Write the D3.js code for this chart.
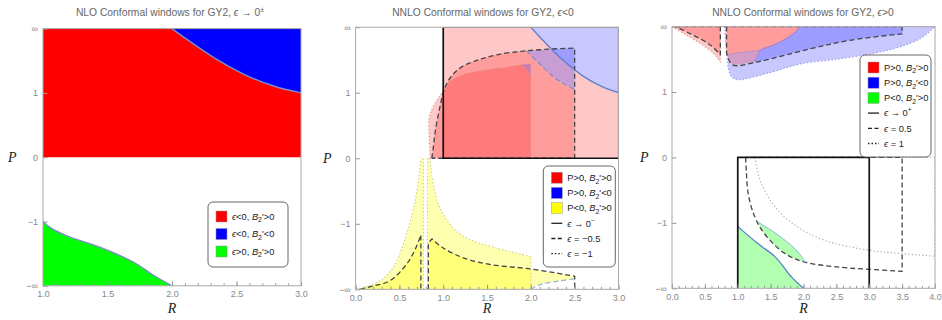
<!DOCTYPE html>
<html><head><meta charset="utf-8">
<script src="https://cdn.jsdelivr.net/npm/d3@7"></script>
<style>
body{margin:0;background:#fff}
svg{display:block;font-family:"Liberation Sans",Arial,sans-serif}
</style>
</head><body>
<svg id="c" width="942" height="320"></svg>
<script>
// ================= DATA =================
// compactified P axis: -2 = -inf, -1, 0, 1, 2 = +inf
const pTicks = [-2, -1, 0, 1, 2];
const pTickLabels = ["−∞", "−1", "0", "1", "∞"];
const r1Ticks = [1.0, 1.5, 2.0, 2.5, 3.0];
const r2Ticks = [0.0, 0.5, 1.0, 1.5, 2.0, 2.5, 3.0];
const r3Ticks = [0.0, 0.5, 1.0, 1.5, 2.0, 2.5, 3.0, 3.5, 4.0];

// Panel 1: NLO, eps -> 0±
const nloBlueCurve  = [[2.0,2.0],[2.11,1.84],[2.34,1.53],[2.6,1.25],[2.8,1.1],[3.0,1.0]];
const nloGreenCurve = [[1.0,-1.0],[1.06,-1.1],[1.18,-1.22],[1.44,-1.40],[1.70,-1.63],[1.86,-1.84],[2.0,-2.0]];

// Panel 2: NNLO, eps < 0
const nmTop05   = [[0.87,0],[0.89,0.2],[0.91,0.42],[0.96,0.77],[1.02,1.08],[1.11,1.28],[1.23,1.41],[1.42,1.51],[1.65,1.59],[1.95,1.64]];
const nmTop05b  = [[1.95,1.64],[2.2,1.665],[2.5,1.68]];
const nmBlue05  = [[1.95,1.64],[2.1,1.44],[2.29,1.21],[2.5,1.05]];
const nmTop1    = [[0.85,0],[0.84,0.3],[0.84,0.62],[0.89,0.8],[0.96,0.95],[1.02,1.06],[1.08,1.18],[1.23,1.28],[1.53,1.36],[1.65,1.38],[1.9,1.43]];
const nmTop1b   = [[1.9,1.43],[2.0,1.44]];
const nmBlue1   = [[1.9,1.43],[1.95,1.36],[2.0,1.26]];
const nmYelL1   = [[0.0,-2],[0.12,-1.96],[0.28,-1.87],[0.40,-1.72],[0.47,-1.57],[0.58,-1.16],[0.68,-0.65],[0.73,-0.2],[0.745,0]];
const nmYelR1   = [[0.845,0],[0.86,-0.15],[0.886,-0.39],[0.96,-0.75],[1.11,-1.06],[1.30,-1.24],[1.53,-1.34],[1.75,-1.42],[2.0,-1.5]];
const nmYelL05  = [[0.05,-2],[0.2,-1.95],[0.39,-1.87],[0.58,-1.62],[0.68,-1.39],[0.745,-1.17]];
const nmYelR05  = [[0.87,-1.23],[1.0,-1.37],[1.23,-1.52],[1.53,-1.62],[2.0,-1.69],[2.5,-1.80]];
const nmBlueLow = [[2.0,-2],[2.1,-1.93],[2.29,-1.88],[2.5,-1.84]];

// Panel 3: NNLO, eps > 0
const ppLeft05   = [[0.05,2],[0.32,1.87],[0.58,1.72],[0.735,1.57]];
const ppLeft1    = [[0.0,2],[0.2,1.88],[0.43,1.74],[0.63,1.59],[0.735,1.46]];
const ppRight05  = [[0.83,1.6],[0.86,1.5],[0.93,1.41],[1.34,1.47],[2.1,1.66],[2.7,1.79],[3.5,1.89]];
const ppRB05     = [[1.25,1.455],[1.3,1.55],[1.34,1.64],[1.55,1.72],[1.74,1.82],[1.88,1.92],[1.95,2.0]];
const ppRight1   = [[0.80,2],[0.82,1.7],[0.86,1.35],[0.9,1.24],[0.98,1.19],[1.5,1.3],[1.95,1.43],[2.5,1.5],[3.0,1.58],[3.47,1.69],[3.8,1.83],[4.0,2.0]];
const ppRB1      = [[0.84,1.57],[1.0,1.6],[1.34,1.64],[1.55,1.72],[1.74,1.82],[1.88,1.92],[1.95,2.0]];
const ppGreen0   = [[1.0,-1.05],[1.03,-1.08],[1.31,-1.32],[1.57,-1.52],[1.82,-1.83],[2.0,-2.0]];
const ppLow05    = [[1.12,0],[1.13,-0.2],[1.16,-0.56],[1.26,-0.91],[1.41,-1.17],[1.72,-1.47],[2.02,-1.6],[2.58,-1.68],[3.0,-1.71],[3.5,-1.74]];
const ppLow1     = [[1.26,0],[1.3,-0.2],[1.36,-0.4],[1.57,-0.76],[1.92,-1.07],[2.33,-1.27],[3.0,-1.42],[3.5,-1.47],[4.0,-1.51]];
const ppLensTop  = [[1.29,-0.96],[1.33,-1.0],[1.52,-1.12],[1.82,-1.35],[1.96,-1.5],[2.02,-1.6]];
const ppLensLow  = [[2.02,-1.6],[1.72,-1.47],[1.41,-1.17],[1.29,-0.96]];

// ================= DRAWING =================
const svg = d3.select("#c");
const defs = svg.append("defs");
const RED = "#ff0000", BLUE = "#0000ff", GREEN = "#00ff00", YEL = "#ffff00";
const A = 0.215, AY = 0.31, AG = 0.3;
const DASH = "5,3", DOT = "1.3,2.2";

const S = pts => ({pts, smooth:true});
const L = pts => ({pts, smooth:false});

function makePanel(cfg){
  const x = d3.scaleLinear().domain(cfg.rDomain).range([cfg.x0, cfg.x1]);
  const y = d3.scaleLinear().domain([-2, 2]).range([cfg.yB, cfg.yT]);
  const id = "clip" + cfg.key;
  defs.append("clipPath").attr("id", id).append("rect")
    .attr("x", cfg.x0).attr("y", cfg.yT).attr("width", cfg.x1 - cfg.x0).attr("height", cfg.yB - cfg.yT);
  const g = svg.append("g");
  const plot = g.append("g").attr("clip-path", `url(#${id})`);
  return {cfg, x, y, g, plot};
}
function pathOf(ctx, segs, close){
  let d = "";
  segs.forEach((s, i) => {
    let p;
    if (s.smooth) {
      p = d3.line().x(q => ctx.x(q[0])).y(q => ctx.y(q[1])).curve(d3.curveCatmullRom.alpha(0.5))(s.pts);
      if (d.length) p = "L" + p.slice(1);
    } else {
      p = s.pts.map((q, j) => ((j === 0 && !d.length) ? "M" : "L") + ctx.x(q[0]) + "," + ctx.y(q[1])).join("");
    }
    d += p;
  });
  return close ? d + "Z" : d;
}
function fill(ctx, segs, color, op){
  ctx.plot.append("path").attr("d", pathOf(ctx, segs, true)).attr("fill", color).attr("fill-opacity", op);
}
function line(ctx, segs, color, w, dash){
  ctx.plot.append("path").attr("d", pathOf(ctx, segs, false)).attr("fill", "none")
    .attr("stroke", color).attr("stroke-width", w).attr("stroke-dasharray", dash || null)
    .attr("stroke-linejoin", "round");
}
const rev = a => a.slice().reverse();

function axes(ctx, majors, titleParts){
  const c = ctx.cfg;
  const fmt = d3.format(".1f");
  const minors = d3.range(c.rDomain[0], c.rDomain[1] + 1e-9, 0.1);
  const gm = ctx.g.append("g").attr("transform", `translate(0,${c.yB})`);
  gm.call(d3.axisBottom(ctx.x).tickValues(minors).tickSize(-2.5).tickFormat(""));
  gm.selectAll("text").remove();
  const gb = ctx.g.append("g").attr("transform", `translate(0,${c.yB})`);
  gb.call(d3.axisBottom(ctx.x).tickValues(majors).tickSize(-4.5).tickPadding(5).tickFormat(fmt));
  const gl = ctx.g.append("g").attr("transform", `translate(${c.x0},0)`);
  gl.call(d3.axisLeft(ctx.y).tickValues(pTicks).tickSize(-4.5).tickPadding(5).tickFormat((d,i) => pTickLabels[i]));
  [gm, gb, gl].forEach(a => {
    a.selectAll(".domain").remove();
    a.selectAll("line").attr("stroke", "#999");
    a.selectAll("text").attr("fill", "#888").attr("font-size", 9).attr("font-family", "Liberation Sans, Arial, sans-serif");
  });
  // frame
  ctx.g.append("rect").attr("x", c.x0).attr("y", c.yT).attr("width", c.x1 - c.x0).attr("height", c.yB - c.yT)
    .attr("fill", "none").attr("stroke", "#a8a8a8").attr("stroke-width", 1);
  // axis labels
  ctx.g.append("text").attr("x", c.pLabelX).attr("y", (c.yT + c.yB)/2 + 5).text("P")
    .attr("font-family", "Liberation Serif, serif").attr("font-style", "italic").attr("font-size", 14).attr("fill", "#222");
  ctx.g.append("text").attr("x", (c.x0 + c.x1)/2).attr("y", 313).attr("text-anchor", "middle").text("R")
    .attr("font-family", "Liberation Serif, serif").attr("font-style", "italic").attr("font-size", 14).attr("fill", "#222");
  // title
  const t = ctx.g.append("text").attr("x", c.titleX).attr("y", 16).attr("text-anchor", "middle")
    .attr("font-size", 10.3).attr("fill", "#666");
  richText(t, titleParts);
}

function richText(t, parts){
  let shift = 0;
  parts.forEach(p => {
    if (typeof p === "string") { const s = t.append("tspan").text(p); if (shift) { s.attr("dy", -shift); shift = 0; } return; }
    const s = t.append("tspan").text(p.t);
    let dy = 0;
    if (p.sub) { dy = 2.5; s.attr("font-size", "75%"); }
    if (p.sup) { dy = -4; s.attr("font-size", "70%"); }
    if (p.i) s.attr("font-style", "italic");
    const total = dy - shift;
    if (total) s.attr("dy", total);
    shift = dy;
  });
}

function legend(ctx, box, items){
  const g = ctx.g.append("g");
  g.append("rect").attr("x", box.x).attr("y", box.y).attr("width", box.w).attr("height", box.h)
    .attr("rx", 5).attr("fill", "#fff").attr("stroke", "#555").attr("stroke-width", 0.9);
  items.forEach((it, i) => {
    const cy = box.y + box.first + i * box.step;
    if (it.color) {
      g.append("rect").attr("x", box.x + 8).attr("y", cy - 5.5).attr("width", 11).attr("height", 11)
        .attr("fill", it.color).attr("stroke", "#999").attr("stroke-width", 0.5);
    } else {
      g.append("line").attr("x1", box.x + 8).attr("x2", box.x + 19).attr("y1", cy).attr("y2", cy)
        .attr("stroke", "#222").attr("stroke-width", 1.3).attr("stroke-dasharray", it.dash || null);
    }
    const t = g.append("text").attr("x", box.x + 24).attr("y", cy + 3.3).attr("font-size", 9.3).attr("fill", "#222");
    richText(t, it.parts);
  });
}
const B2 = [{t:"B", i:true}, {t:"2", sub:true}];
const EPS = {t:"ϵ", i:true};

// ---------- Panel 1 ----------
const p1 = makePanel({key:1, rDomain:[1,3], x0:43, x1:301, yT:28.6, yB:285.8, pLabelX:8, titleX:170});
fill(p1, [L([[1,0],[1,2],[3,2],[3,0]])], RED, 1);
fill(p1, [S(nloBlueCurve), L([[3,1],[3,2]])], BLUE, 1);
fill(p1, [L([[1,-2]]), S(nloGreenCurve)], GREEN, 1);
line(p1, [S(nloBlueCurve)], "#7b8fc7", 1.4);
line(p1, [S(nloGreenCurve)], "#7b8fc7", 1.4);
axes(p1, r1Ticks, ["NLO Conformal windows for GY2, ", EPS, " → 0", {t:"±", sup:true}]);
legend(p1, {x:208, y:202, w:80, h:65, first:14.5, step:17.5}, [
  {color:RED,   parts:[EPS, "<0, ", ...B2, "'>0"]},
  {color:BLUE,  parts:[EPS, "<0, ", ...B2, "'<0"]},
  {color:GREEN, parts:[EPS, ">0, ", ...B2, "'>0"]}
]);

// ---------- Panel 2 ----------
const p2 = makePanel({key:2, rDomain:[0,3], x0:355.6, x1:618.5, yT:27.2, yB:289.3, pLabelX:323, titleX:483});
// eps -> 0-
fill(p2, [L([[1,0],[1,2]]), S(nloBlueCurve), L([[3,1],[3,0]])], RED, A);
fill(p2, [S(nloBlueCurve), L([[3,1],[3,2]])], BLUE, A);
// eps = -0.5
fill(p2, [S(nmTop05), S(nmBlue05), L([[2.5,1.05],[2.5,0]])], RED, A);
fill(p2, [S(nmTop05b), S(rev(nmBlue05))], BLUE, A);
// eps = -1
fill(p2, [S(nmTop1), S(nmBlue1), L([[2.0,1.26],[2.0,0]])], RED, A);
fill(p2, [L(nmTop1b), S(rev(nmBlue1))], BLUE, A);
// P<0 yellow
fill(p2, [S(nmYelL1), L([[0.775,0],[0.775,-2]])], YEL, AY);
fill(p2, [L([[0.82,-2],[0.82,0]]), S(nmYelR1), L([[2.0,-2]])], YEL, AY);
fill(p2, [S(nmYelL05), L([[0.745,-2]])], YEL, AY);
fill(p2, [L([[0.83,-2],[0.83,-1.30]]), S(nmYelR05), L([[2.5,-1.84]]), S(rev(nmBlueLow))], YEL, AY);
// strokes
line(p2, [S(nmTop1), L(nmTop1b), L([[2.0,0],[0.85,0]])], "#e29a9a", 1.2, DOT);
line(p2, [S(nmBlue1)], "#a090d0", 1.1, DOT);
line(p2, [S(nmYelL1), L([[0.775,0],[0.775,-2]])], "#c9c98a", 1.1, DOT);
line(p2, [L([[0.82,-2],[0.82,0]]), S(nmYelR1), L([[2.0,-2]])], "#c9c98a", 1.1, DOT);
line(p2, [S(nmTop05), S(nmTop05b), L([[2.5,0],[0.87,0]])], "#444", 1.3, DASH);
line(p2, [S(nmBlue05)], "#7e8ccc", 1.2, DASH);
line(p2, [S(nmYelL05), L([[0.745,-2]])], "#444", 1.3, DASH);
line(p2, [L([[0.83,-2],[0.83,-1.30]]), S(nmYelR05), L([[2.5,-2]])], "#444", 1.3, DASH);
line(p2, [S(nmBlueLow)], "#8fb2e2", 1.2, DASH);
line(p2, [L([[1,2],[1,0],[3,0]])], "#111", 1.7);
line(p2, [L([[1,2],[3,2],[3,0]])], "#555", 1.2);
line(p2, [S(nloBlueCurve)], "#5b7fcf", 1.3);
axes(p2, r2Ticks, ["NNLO Conformal windows for GY2, ", EPS, "<0"]);
legend(p2, {x:543.3, y:166, w:72, h:101, first:11.7, step:15.2}, [
  {color:RED,  parts:["P>0, ", ...B2, "'>0"]},
  {color:BLUE, parts:["P>0, ", ...B2, "'<0"]},
  {color:YEL,  parts:["P<0, ", ...B2, "'>0"]},
  {dash:null,  parts:[EPS, " → 0", {t:"−", sup:true}]},
  {dash:"4,2.5", parts:[EPS, " = −0.5"]},
  {dash:"1.5,2", parts:[EPS, " = −1"]}
]);

// ---------- Panel 3 ----------
const p3 = makePanel({key:3, rDomain:[0,4], x0:672, x1:935, yT:26.6, yB:288.3, pLabelX:640, titleX:803});
// eps = 1
fill(p3, [S(ppLeft1), L([[0.735,2]])], RED, A);
fill(p3, [L([[0.80,2],[0.82,1.7]]), S(ppRB1)], RED, A);
fill(p3, [S(ppRB1), L([[4.0,2]]), S(rev(ppRight1).filter(q => q[0] >= 0.86))], BLUE, A);
// eps = 0.5
fill(p3, [S(ppLeft05), L([[0.735,2]])], RED, A);
fill(p3, [L([[0.83,2]]), S(ppRight05.slice(0,3)), S(ppRB05)], RED, A);
fill(p3, [S(ppRB05), L([[3.5,2]]), S(rev(ppRight05).filter(q => q[0] >= 1.34))], BLUE, A);
// P<0 greens
fill(p3, [L([[1,-2]]), S(ppGreen0)], GREEN, AG);
fill(p3, [S(ppLensTop), S(ppLensLow)], GREEN, AG);
// strokes
line(p3, [L([[0,2]]), S(ppLeft1), L([[0.735,2]])], "#e29a9a", 1.2, DOT);
line(p3, [S(ppRight1)], "#9c9ce6", 1.2, DOT);
line(p3, [S(ppRB1)], "#b08ad0", 0.8);
line(p3, [S(ppRB05)], "#9a7fc8", 0.8);
line(p3, [L([[0.735,2]]), S(rev(ppLeft05))], "#444", 1.3, DASH);
line(p3, [L([[0.83,2]]), S(ppRight05), L([[3.5,2]])], "#444", 1.3, DASH);
line(p3, [L([[0.05,2],[3.5,2]])], "#444", 1.3, DASH);
line(p3, [L([[3.5,2],[4.0,2]])], "#aaa", 1.2, DOT);
line(p3, [S(ppLow1), L([[4.0,0],[1.26,0]])], "#b0b0b0", 1.2, DOT);
line(p3, [S(ppLow05), L([[3.5,0],[1.12,0]])], "#444", 1.3, DASH);
line(p3, [S(ppLensTop)], "#8fb2e2", 1.0);
line(p3, [S(ppGreen0)], "#5b7fcf", 1.3);
line(p3, [L([[1,-2],[1,0],[3,0],[3,-2]])], "#111", 1.7);
axes(p3, r3Ticks, ["NNLO Conformal windows for GY2, ", EPS, ">0"]);
legend(p3, {x:860, y:55, w:71, h:102, first:12.5, step:15.2}, [
  {color:RED,   parts:["P>0, ", ...B2, "'>0"]},
  {color:BLUE,  parts:["P>0, ", ...B2, "'<0"]},
  {color:GREEN, parts:["P<0, ", ...B2, "'>0"]},
  {dash:null,   parts:[EPS, " → 0", {t:"+", sup:true}]},
  {dash:"4,2.5", parts:[EPS, " = 0.5"]},
  {dash:"1.5,2", parts:[EPS, " = 1"]}
]);
</script>
</body></html>
